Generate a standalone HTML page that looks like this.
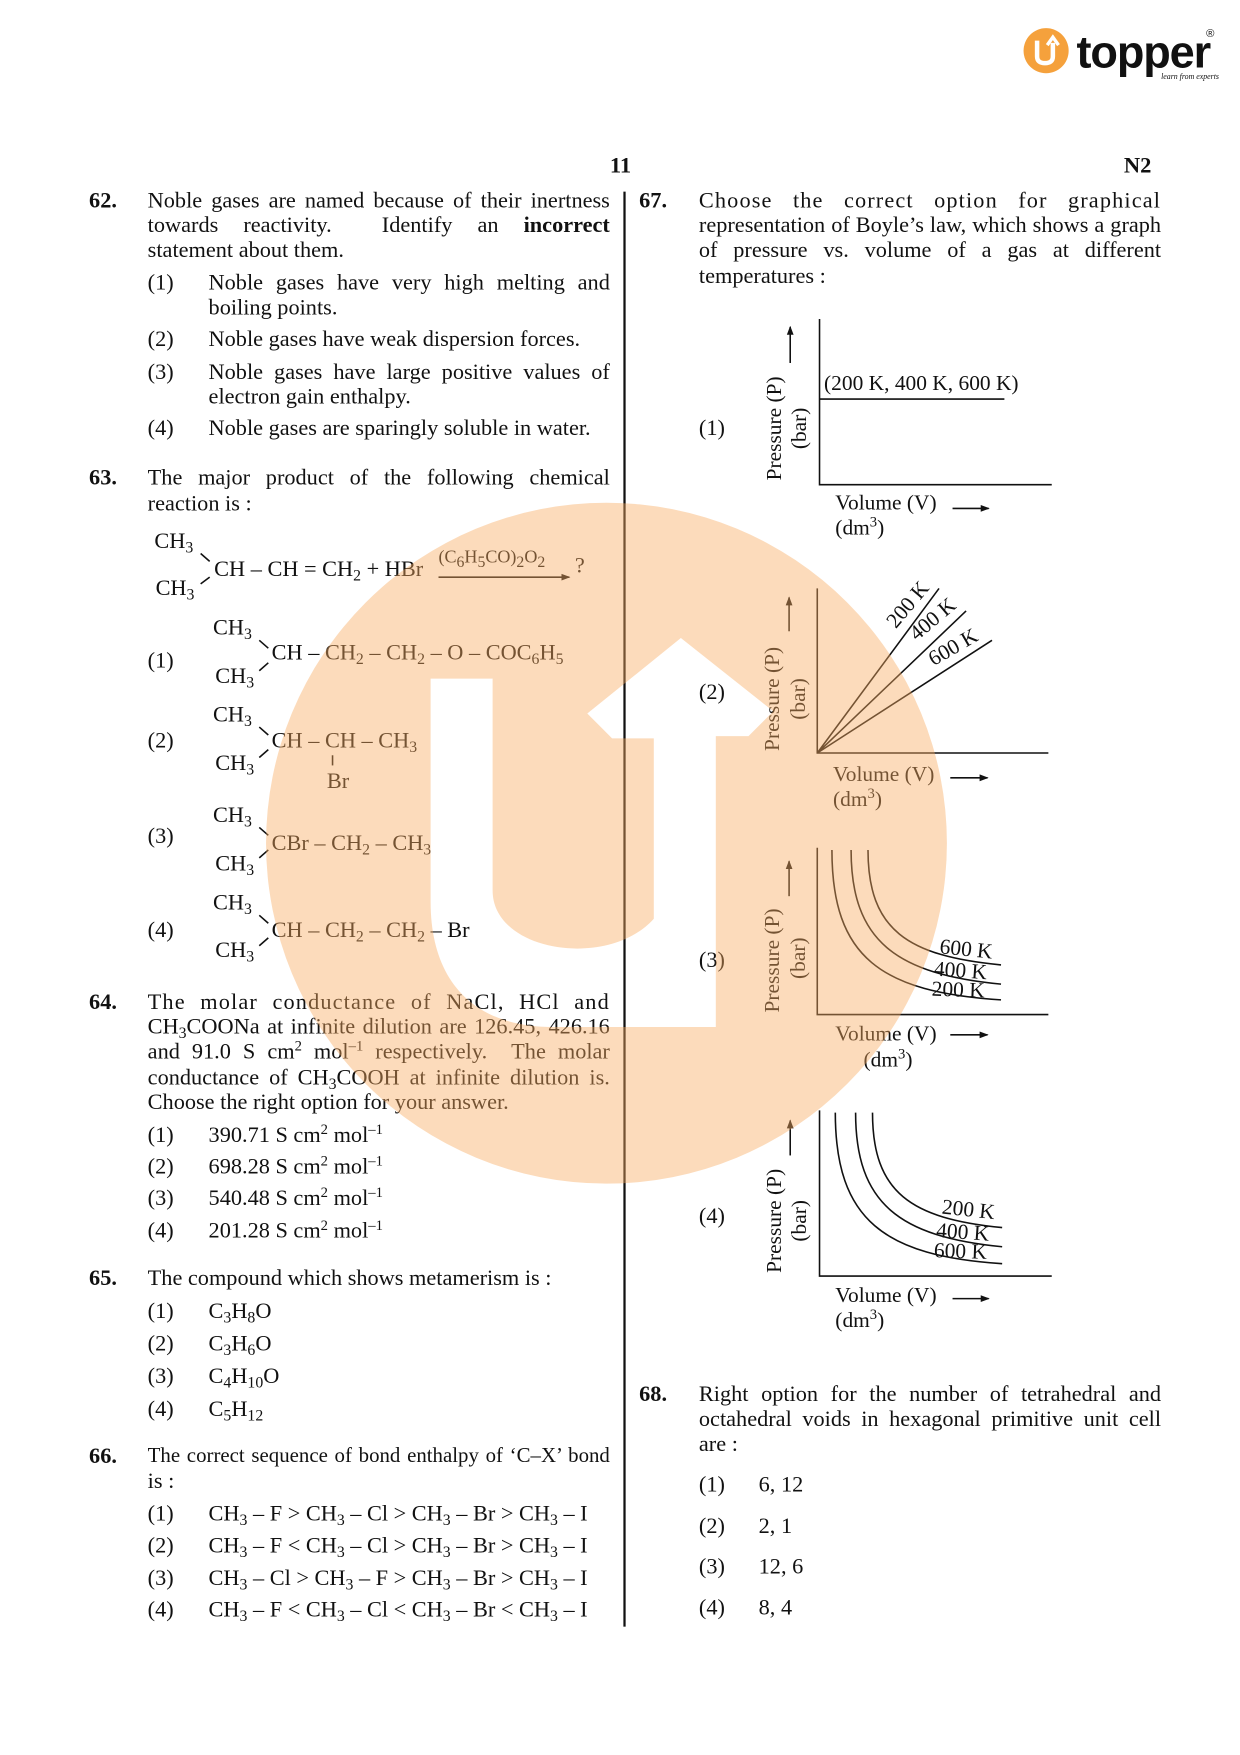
<!DOCTYPE html>
<html><head><meta charset="utf-8">
<style>
html,body{margin:0;padding:0;background:#fff;}
body{width:1240px;height:1755px;overflow:hidden;position:relative;}
#pg{position:absolute;left:0;top:0;width:1100px;height:1557px;transform:scale(1.12727);transform-origin:0 0;}
.t{position:absolute;white-space:nowrap;font-family:"Liberation Serif",serif;font-size:19.8px;line-height:22px;color:#111;}
.j{text-align:justify;text-align-last:justify;white-space:normal;}
.b{font-weight:bold;}
sub{font-size:14px;vertical-align:-4px;line-height:0;}
sup{font-size:13px;vertical-align:7px;line-height:0;}
.r{position:absolute;white-space:nowrap;font-family:"Liberation Serif",serif;font-size:19px;line-height:20px;color:#111;transform:translate(-50%,-50%) rotate(-90deg);}
.g{position:absolute;white-space:nowrap;font-family:"Liberation Serif",serif;font-size:19px;line-height:20px;color:#111;}
</style></head><body><div id="pg">

<svg style="position:absolute;left:0;top:0" width="1100" height="100">
<circle cx="928" cy="45" r="20" fill="#f5a13c"/>
<path d="M920,36 L920,50 Q920,56 927,56 Q934,56 934,50 L934,38" stroke="#fff" stroke-width="4" fill="none"/>
<path d="M929,40 L934,33 L939,40" stroke="#fff" stroke-width="3" fill="none"/>
<text x="955" y="60" font-family="Liberation Sans, sans-serif" font-weight="bold" font-size="40" fill="#111" letter-spacing="-1">topper</text>
<text x="1070" y="33" font-family="Liberation Sans, sans-serif" font-size="10" fill="#111">®</text>
<text x="1030" y="70" font-family="Liberation Serif, serif" font-style="italic" font-size="7" fill="#111">learn from experts</text>
</svg>

<div class="t b" style="left:541px;top:136px;font-size:20px">11</div>
<div class="t b" style="left:997px;top:136px;font-size:20px">N2</div>

<div style="position:absolute;left:553px;top:170px;width:2px;height:1273px;background:#111"></div>

<div class="t b" style="left:79px;top:167px">62.</div>
<div class="t j" style="left:131px;top:167px;width:410px">Noble gases are named because of their inertness</div>
<div class="t j" style="left:131px;top:189px;width:410px">towards reactivity. &nbsp;Identify an <b>incorrect</b></div>
<div class="t" style="left:131px;top:211px">statement about them.</div>
<div class="t" style="left:131px;top:240px">(1)</div>
<div class="t j" style="left:185px;top:240px;width:356px">Noble gases have very high melting and</div>
<div class="t" style="left:185px;top:262px">boiling points.</div>
<div class="t" style="left:131px;top:290px">(2)</div>
<div class="t" style="left:185px;top:290px">Noble gases have weak dispersion forces.</div>
<div class="t" style="left:131px;top:319px">(3)</div>
<div class="t j" style="left:185px;top:319px;width:356px">Noble gases have large positive values of</div>
<div class="t" style="left:185px;top:341px">electron gain enthalpy.</div>
<div class="t" style="left:131px;top:369px">(4)</div>
<div class="t" style="left:185px;top:369px">Noble gases are sparingly soluble in water.</div>

<div class="t b" style="left:79px;top:413px">63.</div>
<div class="t j" style="left:131px;top:413px;width:410px">The major product of the following chemical</div>
<div class="t" style="left:131px;top:436px">reaction is :</div>

<div class="t" style="left:137px;top:469px">CH<sub>3</sub></div>
<div class="t" style="left:138px;top:511px">CH<sub>3</sub></div>
<div class="t" style="left:190px;top:494px">CH – CH = CH<sub>2</sub> + HBr</div>
<div class="t" style="left:389px;top:484px;font-size:16px">(C<sub>6</sub>H<sub>5</sub>CO)<sub>2</sub>O<sub>2</sub></div>
<div class="t" style="left:510px;top:491px">?</div>

<div class="t" style="left:131px;top:575px">(1)</div>
<div class="t" style="left:189px;top:546px">CH<sub>3</sub></div>
<div class="t" style="left:191px;top:589px">CH<sub>3</sub></div>
<div class="t" style="left:241px;top:568px">CH – CH<sub>2</sub> – CH<sub>2</sub> – O – COC<sub>6</sub>H<sub>5</sub></div>

<div class="t" style="left:131px;top:646px">(2)</div>
<div class="t" style="left:189px;top:623px">CH<sub>3</sub></div>
<div class="t" style="left:191px;top:666px">CH<sub>3</sub></div>
<div class="t" style="left:241px;top:646px">CH – CH – CH<sub>3</sub></div>
<div class="t" style="left:290px;top:682px">Br</div>

<div class="t" style="left:131px;top:731px">(3)</div>
<div class="t" style="left:189px;top:712px">CH<sub>3</sub></div>
<div class="t" style="left:191px;top:755px">CH<sub>3</sub></div>
<div class="t" style="left:241px;top:737px">CBr – CH<sub>2</sub> – CH<sub>3</sub></div>

<div class="t" style="left:131px;top:814px">(4)</div>
<div class="t" style="left:189px;top:790px">CH<sub>3</sub></div>
<div class="t" style="left:191px;top:832px">CH<sub>3</sub></div>
<div class="t" style="left:241px;top:814px">CH – CH<sub>2</sub> – CH<sub>2</sub> – Br</div>

<div class="t b" style="left:79px;top:878px">64.</div>
<div class="t j" style="left:131px;top:878px;width:410px;letter-spacing:1px">The molar conductance of NaCl, HCl and</div>
<div class="t j" style="left:131px;top:900px;width:410px">CH<sub>3</sub>COONa at infinite dilution are 126.45, 426.16</div>
<div class="t j" style="left:131px;top:922px;width:410px">and 91.0 S cm<sup>2</sup> mol<sup>–1</sup> respectively. &nbsp;The molar</div>
<div class="t j" style="left:131px;top:945px;width:410px">conductance of CH<sub>3</sub>COOH at infinite dilution is.</div>
<div class="t" style="left:131px;top:967px">Choose the right option for your answer.</div>
<div class="t" style="left:131px;top:996px">(1)</div><div class="t" style="left:185px;top:996px">390.71 S cm<sup>2</sup> mol<sup>–1</sup></div>
<div class="t" style="left:131px;top:1024px">(2)</div><div class="t" style="left:185px;top:1024px">698.28 S cm<sup>2</sup> mol<sup>–1</sup></div>
<div class="t" style="left:131px;top:1052px">(3)</div><div class="t" style="left:185px;top:1052px">540.48 S cm<sup>2</sup> mol<sup>–1</sup></div>
<div class="t" style="left:131px;top:1081px">(4)</div><div class="t" style="left:185px;top:1081px">201.28 S cm<sup>2</sup> mol<sup>–1</sup></div>

<div class="t b" style="left:79px;top:1123px">65.</div>
<div class="t" style="left:131px;top:1123px">The compound which shows metamerism is :</div>
<div class="t" style="left:131px;top:1152px">(1)</div><div class="t" style="left:185px;top:1152px">C<sub>3</sub>H<sub>8</sub>O</div>
<div class="t" style="left:131px;top:1181px">(2)</div><div class="t" style="left:185px;top:1181px">C<sub>3</sub>H<sub>6</sub>O</div>
<div class="t" style="left:131px;top:1210px">(3)</div><div class="t" style="left:185px;top:1210px">C<sub>4</sub>H<sub>10</sub>O</div>
<div class="t" style="left:131px;top:1239px">(4)</div><div class="t" style="left:185px;top:1239px">C<sub>5</sub>H<sub>12</sub></div>

<div class="t b" style="left:79px;top:1281px">66.</div>
<div class="t j" style="left:131px;top:1281px;width:410px;font-size:18.5px;height:22px;overflow:hidden">The correct sequence of bond enthalpy of ‘C–X’ bond</div>
<div class="t" style="left:131px;top:1303px">is :</div>
<div class="t" style="left:131px;top:1332px">(1)</div><div class="t" style="left:185px;top:1332px">CH<sub>3</sub> – F &gt; CH<sub>3</sub> – Cl &gt; CH<sub>3</sub> – Br &gt; CH<sub>3</sub> – I</div>
<div class="t" style="left:131px;top:1360px">(2)</div><div class="t" style="left:185px;top:1360px">CH<sub>3</sub> – F &lt; CH<sub>3</sub> – Cl &gt; CH<sub>3</sub> – Br &gt; CH<sub>3</sub> – I</div>
<div class="t" style="left:131px;top:1389px">(3)</div><div class="t" style="left:185px;top:1389px">CH<sub>3</sub> – Cl &gt; CH<sub>3</sub> – F &gt; CH<sub>3</sub> – Br &gt; CH<sub>3</sub> – I</div>
<div class="t" style="left:131px;top:1417px">(4)</div><div class="t" style="left:185px;top:1417px">CH<sub>3</sub> – F &lt; CH<sub>3</sub> – Cl &lt; CH<sub>3</sub> – Br &lt; CH<sub>3</sub> – I</div>

<div class="t b" style="left:567px;top:167px">67.</div>
<div class="t j" style="left:620px;top:167px;width:410px;letter-spacing:1px">Choose the correct option for graphical</div>
<div class="t j" style="left:620px;top:189px;width:410px">representation of Boyle’s law, which shows a graph</div>
<div class="t j" style="left:620px;top:211px;width:410px">of pressure vs. volume of a gas at different</div>
<div class="t" style="left:620px;top:234px">temperatures :</div>

<div class="t" style="left:620px;top:369px">(1)</div>
<div class="t" style="left:620px;top:603px">(2)</div>
<div class="t" style="left:620px;top:841px">(3)</div>
<div class="t" style="left:620px;top:1068px">(4)</div>

<div class="r" style="left:688px;top:380px">Pressure (P)</div>
<div class="r" style="left:710px;top:380px">(bar)</div>
<div class="r" style="left:686px;top:620px">Pressure (P)</div>
<div class="r" style="left:709px;top:620px">(bar)</div>
<div class="r" style="left:686px;top:852px">Pressure (P)</div>
<div class="r" style="left:709px;top:850px">(bar)</div>
<div class="r" style="left:688px;top:1083px">Pressure (P)</div>
<div class="r" style="left:710px;top:1083px">(bar)</div>

<div class="g" style="left:731px;top:331px;font-size:19px">(200 K, 400 K, 600 K)</div>

<div class="g" style="left:741px;top:437px">Volume (V)</div><div class="g" style="left:741px;top:459px">(dm<sup>3</sup>)</div>
<div class="g" style="left:739px;top:678px">Volume (V)</div><div class="g" style="left:739px;top:700px">(dm<sup>3</sup>)</div>
<div class="g" style="left:741px;top:908px">Volume (V)</div><div class="g" style="left:766px;top:931px">(dm<sup>3</sup>)</div>
<div class="g" style="left:741px;top:1140px">Volume (V)</div><div class="g" style="left:741px;top:1162px">(dm<sup>3</sup>)</div>

<div class="g" style="left:806px;top:537px;transform:translate(-50%,-50%) rotate(-50deg)">200 K</div>
<div class="g" style="left:828px;top:550px;transform:translate(-50%,-50%) rotate(-40deg)">400 K</div>
<div class="g" style="left:846px;top:575px;transform:translate(-50%,-50%) rotate(-30deg)">600 K</div>

<div class="g" style="left:857px;top:843px;transform:translate(-50%,-50%) rotate(6deg)">600 K</div>
<div class="g" style="left:852px;top:862px;transform:translate(-50%,-50%) rotate(4deg)">400 K</div>
<div class="g" style="left:850px;top:879px;transform:translate(-50%,-50%) rotate(2deg)">200 K</div>

<div class="g" style="left:859px;top:1074px;transform:translate(-50%,-50%) rotate(6deg)">200 K</div>
<div class="g" style="left:854px;top:1094px;transform:translate(-50%,-50%) rotate(4deg)">400 K</div>
<div class="g" style="left:852px;top:1111px;transform:translate(-50%,-50%) rotate(2deg)">600 K</div>

<svg style="position:absolute;left:0;top:0" width="1100" height="1557">
<defs><marker id="ah" markerWidth="8" markerHeight="8" refX="7" refY="4" orient="auto" markerUnits="userSpaceOnUse"><path d="M0,1 L8,4 L0,7 Z" fill="#111"/></marker></defs>
<g stroke="#111" stroke-width="1.4" fill="none">
<path d="M389,512 L505,512" marker-end="url(#ah)"/>
<path d="M178,491 L186,498 M178,518 L186,512"/>
<path d="M230,568 L238,575 M230,595 L238,588"/>
<path d="M230,645 L238,652 M230,672 L238,665"/>
<path d="M230,734 L238,741 M230,761 L238,754"/>
<path d="M230,812 L238,819 M230,839 L238,832"/>
<path d="M295,670 L295,679"/>
<path d="M727,283 L727,430 L933,430"/>
<path d="M727,354 L891,354"/>
<path d="M701,322 L701,290" marker-end="url(#ah)"/>
<path d="M845,451 L877,451" marker-end="url(#ah)"/>
<path d="M725,522 L725,668 L930,668"/>
<path d="M725,668 L833,522 M725,668 L857,542 M725,668 L880,568"/>
<path d="M700,560 L700,530" marker-end="url(#ah)"/>
<path d="M843,690 L876,690" marker-end="url(#ah)"/>
<path d="M725,752 L725,900 L930,900"/>
<path d="M770,754 C770,825 805,848 888,856"/>
<path d="M755,754 C755,835 795,864 888,873"/>
<path d="M738,754 C738,850 782,880 888,887"/>
<path d="M700,795 L700,764" marker-end="url(#ah)"/>
<path d="M843,918 L876,918" marker-end="url(#ah)"/>
<path d="M727,985 L727,1132 L933,1132"/>
<path d="M774,987 C774,1058 808,1081 889,1089"/>
<path d="M759,987 C759,1068 798,1097 889,1106"/>
<path d="M741,987 C741,1083 785,1114 889,1121"/>
<path d="M701,1025 L701,994" marker-end="url(#ah)"/>
<path d="M845,1152 L877,1152" marker-end="url(#ah)"/>
</g>
</svg>

<div class="t b" style="left:567px;top:1226px">68.</div>
<div class="t j" style="left:620px;top:1226px;width:410px">Right option for the number of tetrahedral and</div>
<div class="t j" style="left:620px;top:1248px;width:410px">octahedral voids in hexagonal primitive unit cell</div>
<div class="t" style="left:620px;top:1270px">are :</div>
<div class="t" style="left:620px;top:1306px">(1)</div><div class="t" style="left:673px;top:1306px">6, 12</div>
<div class="t" style="left:620px;top:1343px">(2)</div><div class="t" style="left:673px;top:1343px">2, 1</div>
<div class="t" style="left:620px;top:1379px">(3)</div><div class="t" style="left:673px;top:1379px">12, 6</div>
<div class="t" style="left:620px;top:1415px">(4)</div><div class="t" style="left:673px;top:1415px">8, 4</div>

<svg style="position:absolute;left:0;top:0;pointer-events:none" width="1100" height="1557">
<defs><mask id="m">
<circle cx="538" cy="748" r="302" fill="#fff"/>
<path d="M382,602 L437,602 L437,790 C437,845 540,860 580,815 L580,655 L543,655 L521,633 L604,566 L686,631 L664,653 L635,653 L635,911 L490,911 C420,911 382,870 382,800 Z" fill="#000"/>
</mask></defs>
<rect x="0" y="0" width="1100" height="1557" fill="rgb(249,172,98)" fill-opacity="0.43" mask="url(#m)"/>
</svg>

</div></body></html>
